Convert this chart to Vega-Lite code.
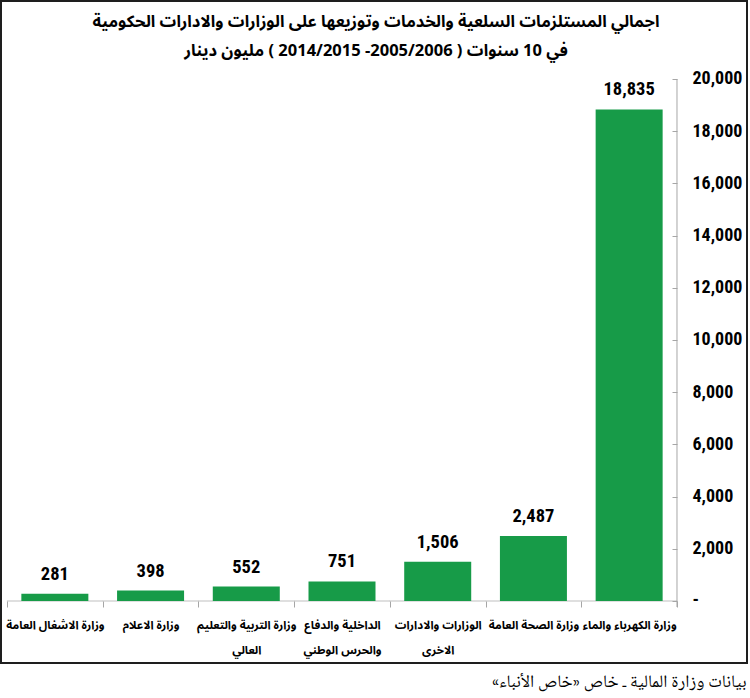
{
  "$schema": "https://vega.github.io/schema/vega-lite/v6.json",
  "width": 746,
  "height": 662,
  "autosize": {"type": "none"},
  "padding": {"left": 1, "top": 1, "right": 3, "bottom": 35},
  "background": "white",
  "config": {
    "view": {"stroke": "#1e1e1e", "strokeWidth": 2}
  },
  "title": {
    "text": ["اجمالي المستلزمات السلعية والخدمات وتوزيعها على الوزارات والادارات الحكومية", "في 10 سنوات ( 2005/2006- 2014/2015 ) مليون دينار"],
    "anchor": "middle",
    "frame": "group",
    "baseline": "top",
    "offset": -58,
    "dx": 2,
    "font": "Noto Sans Arabic Condensed, Noto Sans Arabic, DejaVu Sans Condensed",
    "fontWeight": "bold",
    "fontSize": 16.5,
    "lineHeight": 29,
    "color": "#000000"
  },
  "data": {
    "values": [
      {"cat": "وزارة الاشغال العامة", "value": 281},
      {"cat": "وزارة الاعلام", "value": 398},
      {"cat": "وزارة التربية والتعليم|العالي", "value": 552},
      {"cat": "الداخلية والدفاع|والحرس الوطني", "value": 751},
      {"cat": "الوزارات والادارات|الاخرى", "value": 1506},
      {"cat": "وزارة الصحة العامة", "value": 2487},
      {"cat": "وزارة الكهرباء والماء", "value": 18835}
    ]
  },
  "encoding": {
    "x": {
      "field": "cat",
      "type": "nominal",
      "sort": null,
      "scale": {"paddingInner": 0, "paddingOuter": 0.397, "align": 0.0789},
      "axis": {
        "orient": "bottom",
        "offset": -62,
        "domain": false,
        "tickBand": "extent",
        "tickSize": 6,
        "tickColor": "#a6a6a6",
        "labelAngle": 0,
        "labelExpr": "split(datum.label, '|')",
        "labelFont": "Noto Sans Arabic Condensed, Noto Sans Arabic, DejaVu Sans Condensed",
        "labelFontWeight": "bold",
        "labelFontSize": 11.5,
        "labelLineHeight": 25,
        "labelColor": "#000000",
        "labelPadding": 12,
        "labelLimit": 200,
        "title": null
      }
    }
  },
  "layer": [
    {
      "mark": {"type": "tick", "color": "#a6a6a6", "thickness": 1, "size": 96},
      "encoding": {"y": {"datum": 0, "type": "quantitative"}}
    },
    {
      "mark": {"type": "bar", "color": "#179b48", "width": {"band": 0.7}},
      "encoding": {
        "y": {
          "field": "value",
          "type": "quantitative",
          "scale": {"domain": [-2375.5, 22988.5], "nice": false, "zero": false},
          "axis": {
            "orient": "right",
            "offset": -70,
            "title": "بيانات وزارة المالية ـ خاص «خاص الأنباء»‏",
            "titleAngle": 0,
            "titleX": 69,
            "titleY": 680,
            "titleAlign": "right",
            "titleAnchor": null,
            "titleBaseline": "middle",
            "titleFont": "Noto Naskh Arabic, Noto Sans Arabic, DejaVu Sans",
            "titleFontWeight": "normal",
            "titleFontSize": 17.5,
            "titleLimit": 400,
            "titleColor": "#000000",
            "domain": false,
            "grid": false,
            "values": [0, 2000, 4000, 6000, 8000, 10000, 12000, 14000, 16000, 18000, 20000],
            "labelExpr": "datum.value == 0 ? '-' : format(datum.value, ',')",
            "tickSize": -5,
            "tickColor": "#a6a6a6",
            "labelPadding": 20,
            "labelFont": "Roboto Condensed, Liberation Sans",
            "labelFontWeight": "bold",
            "labelFontSize": 18,
            "labelColor": "#000000",
            "labelAlign": "left",
            "labelBaseline": "middle"
          }
        },
        "y2": {"datum": 0}
      }
    },
    {
      "mark": {"type": "text", "dy": -14, "baseline": "alphabetic", "font": "Roboto Condensed, Liberation Sans", "fontWeight": "bold", "fontSize": 18.5, "color": "#000000"},
      "encoding": {
        "y": {"field": "value", "type": "quantitative"},
        "text": {"field": "value", "type": "quantitative", "format": ","}
      }
    },
    {
      "transform": [{"filter": "datum.value > 10000"}],
      "mark": {"type": "rule", "color": "#a6a6a6", "strokeWidth": 1},
      "encoding": {
        "x": {
          "field": "cat",
          "type": "nominal",
          "sort": null,
          "bandPosition": 1,
          "axis": {
            "orient": "bottom",
            "offset": -62,
            "domain": false,
            "tickBand": "extent",
            "tickSize": 6,
            "tickColor": "#a6a6a6",
            "labelAngle": 0,
            "labelExpr": "split(datum.label, '|')",
            "labelFont": "Noto Sans Arabic Condensed, Noto Sans Arabic, DejaVu Sans Condensed",
            "labelFontWeight": "bold",
            "labelFontSize": 11.5,
            "labelLineHeight": 25,
            "labelColor": "#000000",
            "labelPadding": 12,
            "labelLimit": 200,
            "title": null
          }
        },
        "y": {"datum": -230},
        "y2": {"datum": 20000}
      }
    }
  ]
}
